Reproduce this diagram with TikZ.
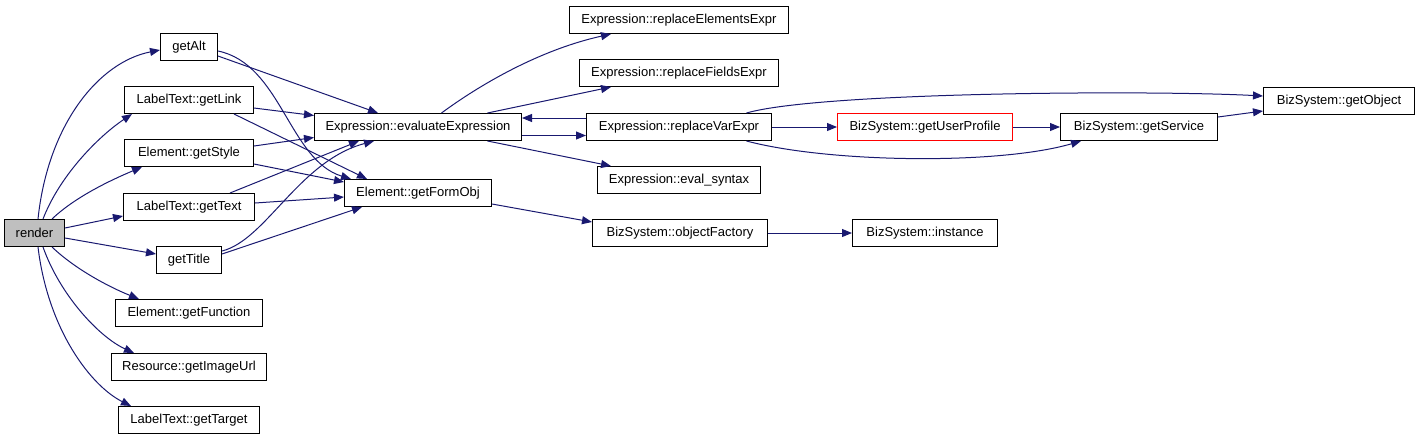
\documentclass[tikz,border=0pt]{standalone}
\usepackage{fontspec}
\setmainfont{Liberation Sans}
\usetikzlibrary{arrows.meta,calc}
\definecolor{edgec}{RGB}{25,25,112}
\definecolor{rootfill}{RGB}{191,191,191}
\definecolor{hilite}{RGB}{255,0,0}
\tikzset{
  fn/.style={draw=black, line width=1pt, fill=white, inner sep=0pt, minimum height=27pt,
    font=\fontsize{13}{15}\selectfont, anchor=center},
  rootfn/.style={fn, fill=rootfill},
  call/.style={draw=edgec, line width=1pt, -{Triangle[length=10pt,width=8pt]}, fill=none},
}
\begin{document}
\begin{tikzpicture}[x=1pt,y=-1pt]
\useasboundingbox (0,0) rectangle (1421,440);
% nodes
\node[rootfn, minimum width=60pt] (render) at (34.5,233) {render};
\node[fn, minimum width=57pt] (getAlt) at (189,47) {getAlt};
\node[fn, minimum width=129pt] (getLink) at (189,100) {LabelText::getLink};
\node[fn, minimum width=129pt] (getStyle) at (189,153) {Element::getStyle};
\node[fn, minimum width=131pt] (getText) at (189,207) {LabelText::getText};
\node[fn, minimum width=65pt] (getTitle) at (189,260) {getTitle};
\node[fn, minimum width=147pt] (getFunction) at (189,313) {Element::getFunction};
\node[fn, minimum width=155pt] (getImageUrl) at (189,367) {Resource::getImageUrl};
\node[fn, minimum width=141pt] (getTarget) at (189,420) {LabelText::getTarget};
\node[fn, minimum width=207pt] (evalExpr) at (418,127) {Expression::evaluateExpression};
\node[fn, minimum width=147pt] (getFormObj) at (418,193) {Element::getFormObj};
\node[fn, minimum width=219pt] (replElem) at (679,20) {Expression::replaceElementsExpr};
\node[fn, minimum width=199pt] (replFields) at (679,73) {Expression::replaceFieldsExpr};
\node[fn, minimum width=185pt] (replVar) at (679,127) {Expression::replaceVarExpr};
\node[fn, minimum width=163pt] (evalSyntax) at (679,180) {Expression::eval\_syntax};
\node[fn, minimum width=175pt] (objFactory) at (680,233) {BizSystem::objectFactory};
\node[fn, draw=hilite, minimum width=175pt] (getUserProfile) at (925,127) {BizSystem::getUserProfile};
\node[fn, minimum width=145pt] (instance) at (925,233) {BizSystem::instance};
\node[fn, minimum width=157pt] (getService) at (1139,127) {BizSystem::getService};
\node[fn, minimum width=151pt] (getObject) at (1339,101) {BizSystem::getObject};
% edges from render
\draw[call] ($(render.north)+(3.5,0)$) .. controls +(10,-95) and +(-61,12) .. ($(getAlt.west)+(0,3)$);
\draw[call] ($(render.north)+(8.5,0)$) .. controls +(17,-44) and +(-33,22) .. ($(getLink.south west)+(8,0)$);
\draw[call] ($(render.north)+(17.5,0)$) .. controls +(23,-22) and +(-31,13) .. ($(getStyle.south west)+(18,0)$);
\draw[call] ($(render.east)+(0,-5)$) -- ($(getText.west)+(0,9)$);
\draw[call] ($(render.east)+(0,5)$) -- ($(getTitle.west)+(0,-6)$);
\draw[call] ($(render.south)+(17.5,0)$) .. controls +(23,22) and +(-30,-12) .. ($(getFunction.north west)+(24,0)$);
\draw[call] ($(render.south)+(8.5,0)$) .. controls +(17,48) and +(-35,-16) .. ($(getImageUrl.north west)+(23,0)$);
\draw[call] ($(render.south)+(3.5,0)$) .. controls +(10,83) and +(-40,-20) .. ($(getTarget.north west)+(13,0)$);
% second column edges
\draw[call] ($(getAlt.east)+(0,9)$) -- ($(evalExpr.north west)+(64,0)$);
\draw[call] ($(getAlt.east)+(0,4)$) .. controls +(63,13) and +(-62,-19) .. ($(getFormObj.north west)+(7,0)$);
\draw[call] ($(getLink.east)+(0,8)$) -- ($(evalExpr.west)+(0,-11.5)$);
\draw[call] ($(getLink.south east)+(-20,0)$) -- ($(getFormObj.north west)+(23,0)$);
\draw[call] ($(getStyle.east)+(0,-7)$) -- ($(evalExpr.west)+(0,10.5)$);
\draw[call] ($(getStyle.east)+(0,11)$) -- ($(getFormObj.west)+(0,-11)$);
\draw[call] ($(getText.north)+(41,0)$) -- ($(evalExpr.south west)+(45,0)$);
\draw[call] ($(getText.east)+(0,-4)$) -- ($(getFormObj.west)+(0,4)$);
\draw[call] ($(getTitle.east)+(0,-9)$) .. controls +(44,-11) and +(-75,20) .. ($(evalExpr.south west)+(60,0)$);
\draw[call] ($(getTitle.east)+(0,-6)$) -- ($(getFormObj.south west)+(18,0)$);
% third column edges
\draw[call] ($(evalExpr.north)+(23.5,0)$) .. controls +(38,-28) and +(-72,16) .. ($(replElem.south west)+(42,0)$);
\draw[call] ($(evalExpr.north)+(69.5,0)$) -- ($(replFields.south west)+(32,0)$);
\draw[call] ($(evalExpr.east)+(0,8.5)$) -- ($(replVar.west)+(0,8.5)$);
\draw[call] ($(replVar.west)+(0,-9)$) -- ($(evalExpr.east)+(0,-9)$);
\draw[call] ($(evalExpr.south)+(69.5,0)$) -- ($(evalSyntax.north west)+(14,0)$);
\draw[call] ($(getFormObj.east)+(0,11)$) -- ($(objFactory.west)+(0,-11)$);
% right part
\draw[call] (objFactory.east) -- (instance.west);
\draw[call] (replVar.east) -- (getUserProfile.west);
\draw[call] ($(replVar.north)+(67.5,0)$) .. controls +(73,-21) and +(-114,-6) .. ($(getObject.west)+(0,-5)$);
\draw[call] ($(replVar.south)+(67.5,0)$) .. controls +(83,22) and +(-82,24) .. ($(getService.south west)+(21,0)$);
\draw[call] (getUserProfile.east) -- (getService.west);
\draw[call] ($(getService.east)+(0,-10)$) -- ($(getObject.west)+(0,10)$);
\end{tikzpicture}
\end{document}
